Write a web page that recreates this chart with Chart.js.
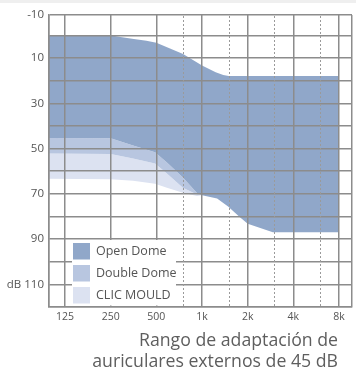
<!DOCTYPE html>
<html>
<head>
<meta charset="utf-8">
<script src="https://cdn.jsdelivr.net/npm/chart.js@4/dist/chart.umd.min.js"></script>
<style>
 html, body { margin: 0; padding: 0; background: #fff; overflow: hidden; }
 #strip { position: absolute; left: 0; top: 0; width: 356px; height: 3px; background: #efefef; }
 #title { position: absolute; right: 18px; top: 329px; text-align: right; color: #5e5e5e;
          font: 17.7px/21px "Open Sans", sans-serif; white-space: nowrap; }
</style>
</head>
<body>
<canvas id="c" width="356" height="371"></canvas>
<div id="strip"></div>
<div id="title">Rango de adaptación de<br>auriculares externos de 45 dB</div>
<script>
// x axis (Hz, log scale)
const xMin = 98, xMax = 9740;
const freqTicks = [125, 250, 500, 1000, 2000, 4000, 8000];
const freqLabels = ['125', '250', '500', '1k', '2k', '4k', '8k'];
const halfOctaves = [750, 1500, 3000, 6000];

// y axis (dB, reversed)
const yMin = -9, yMax = 120;
const dbGrid = [0, 10, 20, 30, 40, 50, 60, 70, 80, 90, 100, 110];
const dbLabelAt = [-9, 10, 30, 50, 70, 90, 110];
const dbLabels = ['-10', '10', '30', '50', '70', '90', 'dB 110'];

// upper edge of the range
const topFreq = [98, 250, 290, 355, 430, 500, 615, 750, 1000, 1230, 1380, 1500, 8000];
const topDb   = [0, 0, 0.7, 1.6, 2.4, 3.3, 5.8, 8.2, 13.3, 16.3, 17.5, 18, 18];

// lower edges
const openFreq = [98, 250, 351, 490, 587, 748, 926, 1000, 1257, 1485, 1778, 2000, 2928, 8000];
const openDb   = [45.3, 45.5, 48.7, 51.6, 56.2, 62.8, 69.6, 70.6, 72.1, 75.6, 80.4, 83.2, 87, 87];
const lowFreq  = [98, 250, 351, 490, 587, 748, 926, 1000];
const doubleDb = [52.2, 52.4, 54.4, 56.6, 61, 67.3, 70.3, 70.6];
const clicDb   = [63.3, 63.6, 64.2, 65.5, 67.3, 69.5, 71.0, 70.6];

const names  = ['Open Dome', 'Double Dome', 'CLIC MOULD'];
const colors = ['#90a7c9', '#b8c6e0', '#dce2f1'];

const pts = (xs, ys) => xs.map((x, i) => ({ x: x, y: ys[i] }));
const line = { borderWidth: 0, borderColor: 'transparent', pointRadius: 0, tension: 0 };

const textCol = '#555';
const gridCol = '#8c8c8c';

// dotted half octave lines + legend box inside the plot
const extras = {
 id: 'extras',
 afterDraw(chart) {
  const ctx = chart.ctx, ca = chart.chartArea, xs = chart.scales.x;
  ctx.save();
  ctx.strokeStyle = '#9a9a9a';
  ctx.lineWidth = 1;
  ctx.setLineDash([2, 2]);
  halfOctaves.forEach(f => {
   const px = Math.round(xs.getPixelForValue(f)) + 0.5;
   ctx.beginPath();
   ctx.moveTo(px, ca.top + 1);
   ctx.lineTo(px, ca.bottom - 1);
   ctx.stroke();
  });
  ctx.setLineDash([]);

  // legend
  const lx = ca.left + 23, ly = ca.top + 225;
  ctx.fillStyle = '#fff';
  ctx.fillRect(lx, ly, 104, ca.bottom - ly - 1.5);
  ctx.font = '12.5px "Open Sans"';
  ctx.textBaseline = 'middle';
  names.forEach((n, i) => {
   const by = ly + 3 + i * 22;
   ctx.fillStyle = colors[i];
   ctx.fillRect(lx + 1, by, 17, 16.5);
   ctx.fillStyle = textCol;
   ctx.fillText(n, lx + 24, by + 8.5);
  });
  ctx.restore();
 }
};

new Chart(document.getElementById('c'), {
 type: 'line',
 data: {
  datasets: [
   Object.assign({ label: 'top', data: pts(topFreq, topDb), fill: false }, line),
   Object.assign({ label: names[0], data: pts(openFreq, openDb), fill: 0, backgroundColor: colors[0] }, line),
   Object.assign({ label: names[1], data: pts(lowFreq, doubleDb), fill: 1, backgroundColor: colors[1] }, line),
   Object.assign({ label: names[2], data: pts(lowFreq, clicDb), fill: 2, backgroundColor: colors[2] }, line)
  ]
 },
 options: {
  responsive: false,
  animation: false,
  layout: { padding: { left: 0, right: 4, top: 15, bottom: 42 } },
  plugins: {
   legend: { display: false },
   tooltip: { enabled: false }
  },
  scales: {
   x: {
    type: 'logarithmic',
    min: xMin,
    max: xMax,
    afterBuildTicks: s => { s.ticks = [xMin].concat(freqTicks, [xMax]).map(v => ({ value: v })); },
    afterFit: s => { s.height = 22; },
    grid: { color: gridCol, lineWidth: 1.5, drawTicks: false, z: 1 },
    border: { color: gridCol, width: 1.5, z: 1 },
    ticks: {
     autoSkip: false, maxRotation: 0, padding: 4, color: textCol,
     font: { family: 'Open Sans', size: 10.5 },
     callback: v => { const i = freqTicks.indexOf(v); return i < 0 ? '' : freqLabels[i]; }
    }
   },
   y: {
    type: 'linear',
    reverse: true,
    min: yMin,
    max: yMax,
    afterBuildTicks: s => { s.ticks = [yMin].concat(dbGrid, [yMax]).map(v => ({ value: v })); },
    afterFit: s => { s.width = 49; },
    grid: { color: gridCol, lineWidth: 1.5, drawTicks: false, z: 1 },
    border: { color: gridCol, width: 1.5, z: 1 },
    ticks: {
     autoSkip: false, padding: 5, color: textCol,
     font: { family: 'Open Sans', size: 11.5 },
     callback: v => { const i = dbLabelAt.indexOf(v); return i < 0 ? '' : dbLabels[i]; }
    }
   }
  }
 },
 plugins: [extras]
});
</script>
</body>
</html>
